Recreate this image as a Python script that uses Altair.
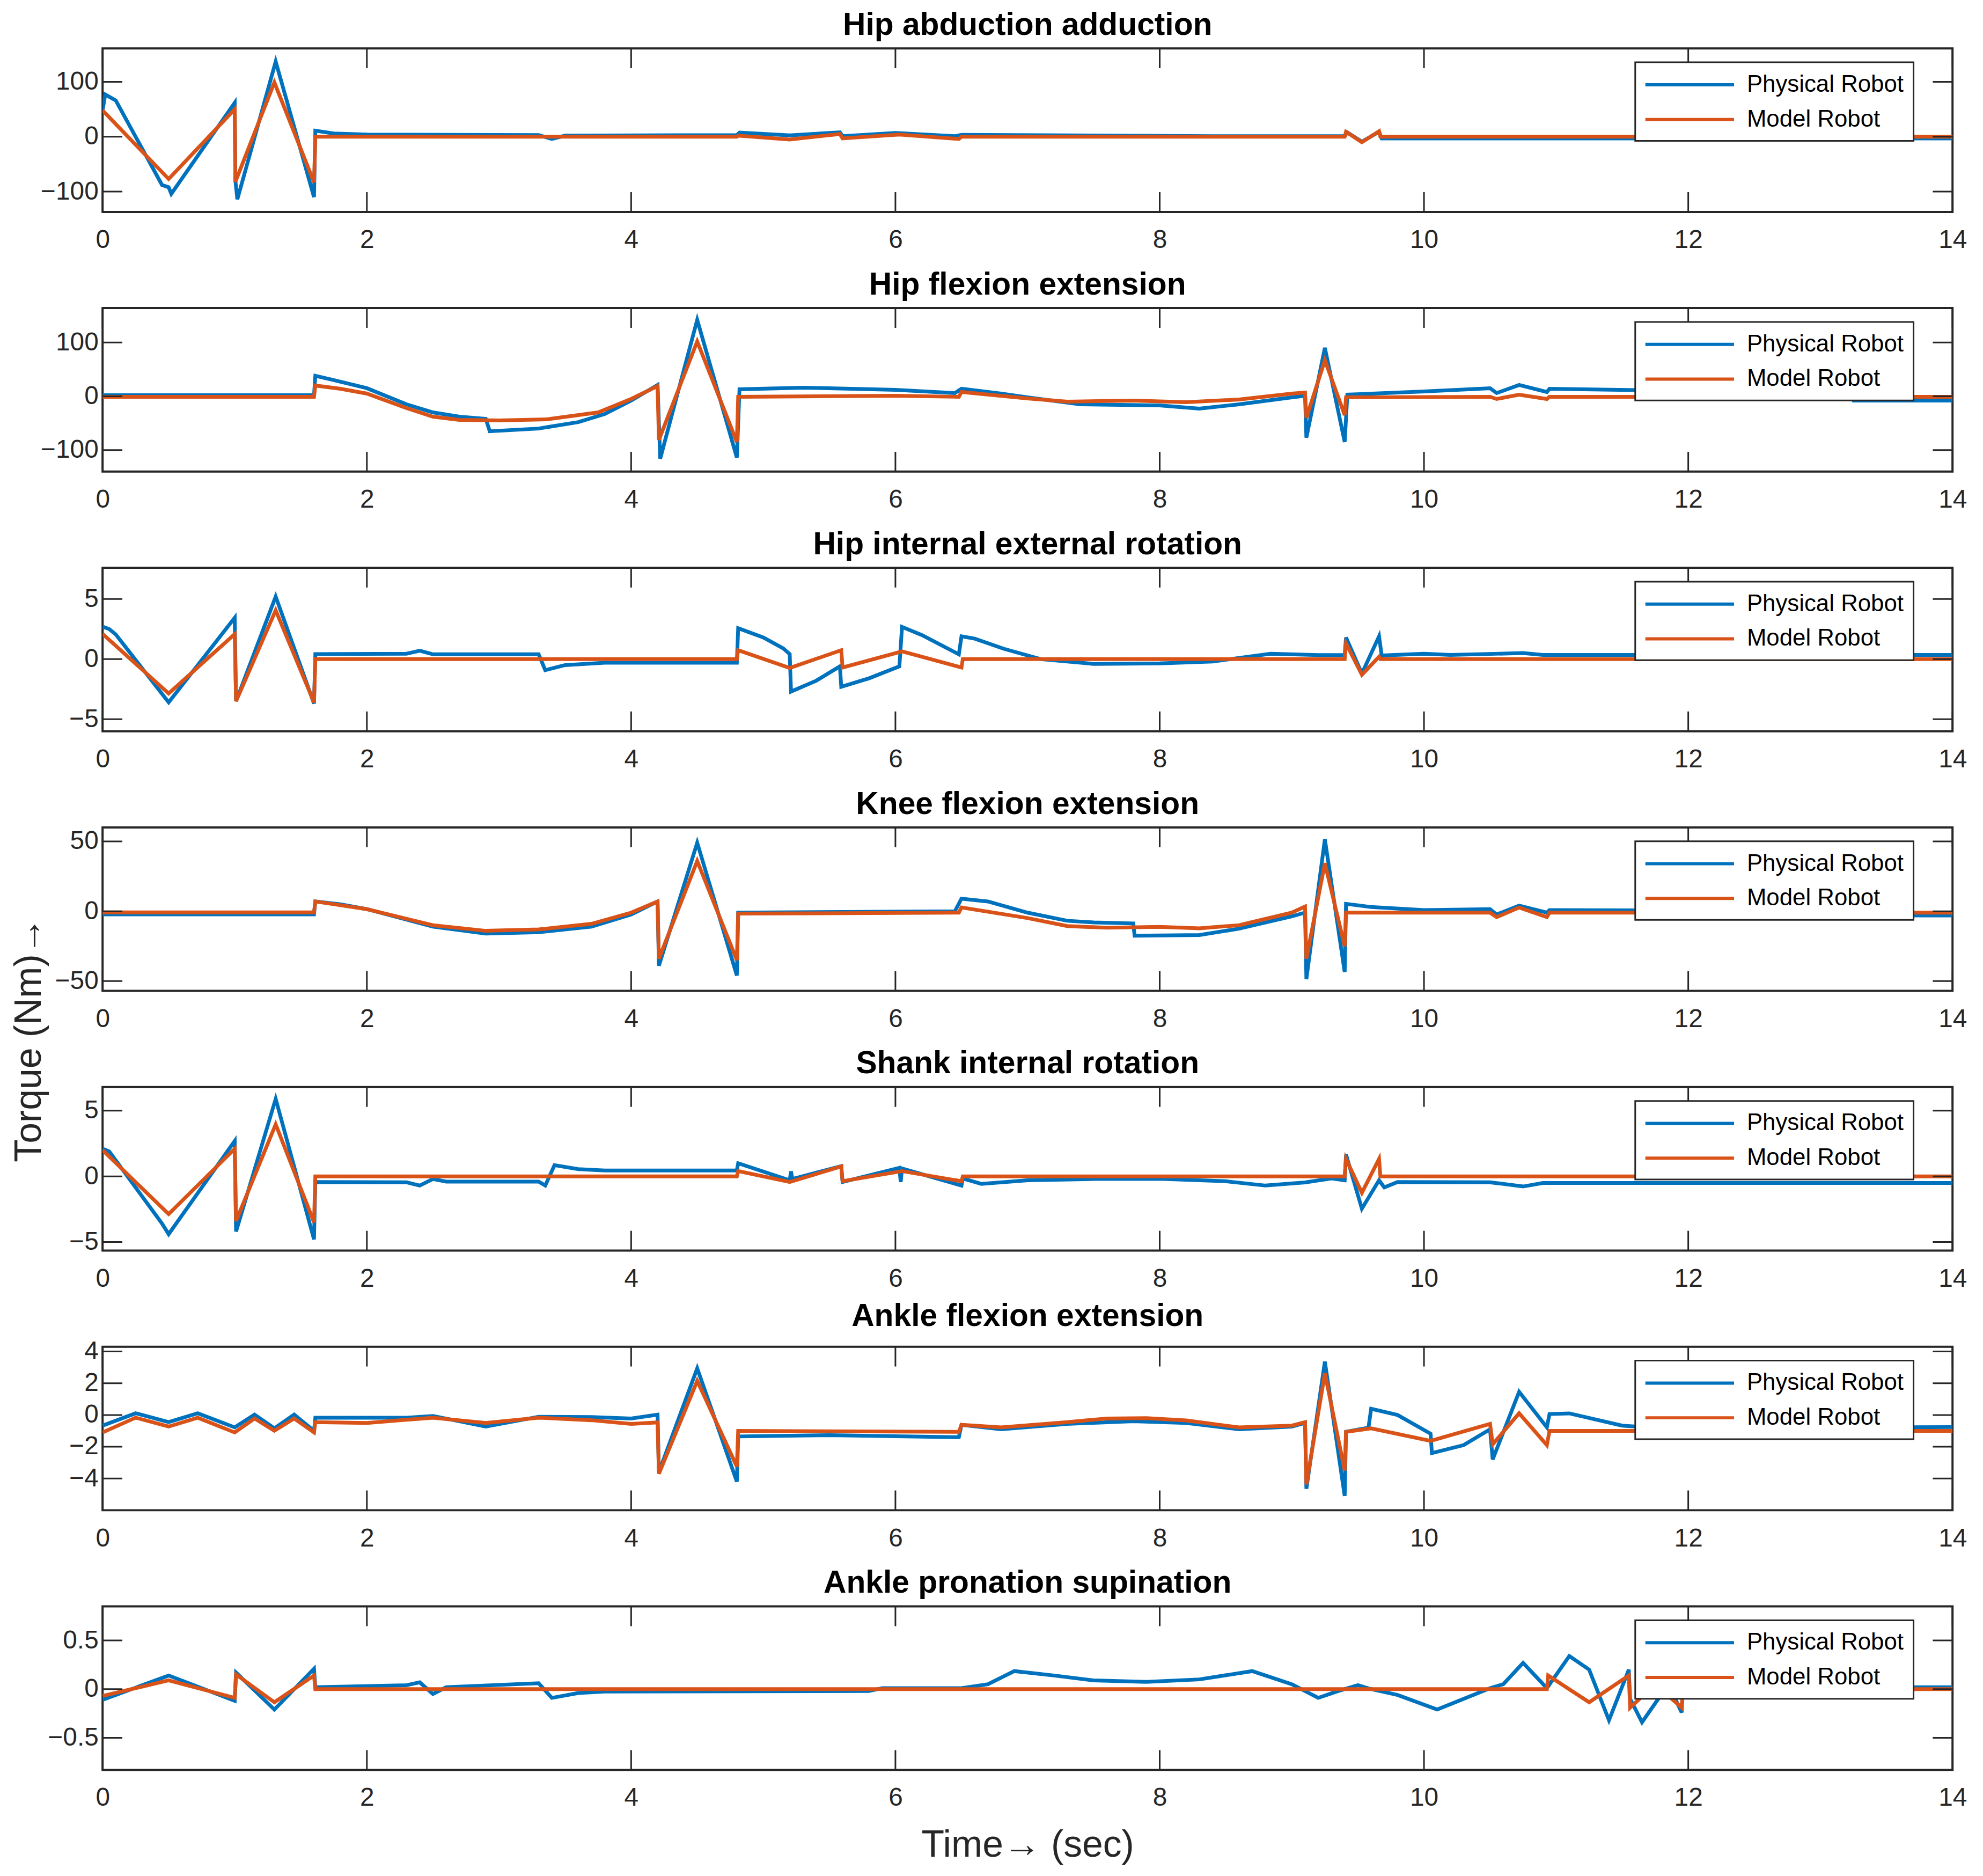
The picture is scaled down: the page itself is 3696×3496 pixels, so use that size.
import pandas as pd
import altair as alt

FONT = "Liberation Sans"
BLUE = "#0072BD"
ORANGE = "#D95319"
INK = "#262626"
W, H = 3463, 306

x_ticks = [0, 2, 4, 6, 8, 10, 12, 14]
series_names = ["Physical Robot", "Model Robot"]

# Hip abduction adduction
hab_phys_t = [0, 0.02, 0.1, 0.45, 0.5, 0.52, 1.0, 1.005, 1.02, 1.31, 1.6, 1.61, 1.75, 2.0, 3.3, 3.4, 3.5,
              4.8, 4.82, 5.2, 5.58, 5.6, 6.0, 6.45, 6.5, 8.4, 9.4, 9.42, 9.53, 9.66, 9.68, 14]
hab_phys = [48, 77, 66, -88, -92, -104, 62, -80, -114, 137, -110, 11, 6, 4, 3, -4, 2,
            3, 7.5, 2.6, 8, 1, 7, 1, 3.6, 1, 1, 8, -9, 9, -3, -3]
hab_model_t = [0, 0.5, 1.0, 1.005, 1.3, 1.6, 1.61, 4.8, 4.81, 5.2, 5.58, 5.6, 6.03, 6.48, 6.5,
               9.4, 9.41, 9.53, 9.66, 9.67, 14]
hab_model = [48, -77, 50, -82, 99, -83, 0, 0, 2, -5, 5, -3, 4, -4, 0,
             0, 9, -10, 10, 0, 0]

# Hip flexion extension
hfe_phys_t = [0, 1.6, 1.61, 1.75, 2.0, 2.3, 2.5, 2.7, 2.9, 2.93, 3.3, 3.6, 3.8, 4.0, 4.2, 4.22, 4.5, 4.8,
              4.82, 5.3, 6.0, 6.45, 6.5, 6.8, 7.0, 7.4, 8.0, 8.3, 8.6, 9.0, 9.1, 9.11, 9.25, 9.4, 9.42,
              10.0, 10.5, 10.55, 10.72, 10.93, 10.95, 12.0, 13.2, 13.25, 14]
hfe_phys = [2, 2, 38, 30, 15, -15, -30, -38, -42, -65, -60, -48, -33, -8, 21, -116, 142, -114,
            13, 16, 12, 6, 14, 5, -2, -15, -17, -23, -15, -2, 1, -77, 90, -85, 3,
            9, 15, 6, 21, 8, 14, 10, 8, -8, -8]
hfe_model_t = [0, 1.6, 1.61, 1.8, 2.0, 2.3, 2.5, 2.7, 3.0, 3.36, 3.75, 4.0, 4.2, 4.21, 4.5, 4.8, 4.81,
               6.0, 6.48, 6.5, 7.0, 7.3, 7.8, 8.2, 8.6, 9.0, 9.1, 9.11, 9.25, 9.4, 9.41,
               10.5, 10.55, 10.72, 10.93, 10.95, 14]
hfe_model = [-1, -1, 20, 14, 5, -22, -38, -44, -45, -43, -30, -5, 19, -81, 102, -85, -1,
             1, -1, 8, -4, -10, -8, -11, -6, 5, 7, -40, 67, -35, -2,
             -1, -5, 3, -5, -1, -1]

# Hip internal external rotation
hier_phys_t = [0, 0.05, 0.1, 0.5, 1.0, 1.01, 1.31, 1.6, 1.61, 2.3, 2.4, 2.5, 3.3, 3.35, 3.5, 3.8, 4.8,
               4.81, 5.0, 5.15, 5.2, 5.21, 5.4, 5.58, 5.59, 5.8, 6.03, 6.05, 6.2, 6.48, 6.5, 6.6, 6.82,
               7.1, 7.5, 8.0, 8.4, 8.84, 9.2, 9.4, 9.41, 9.53, 9.66, 9.68, 10.0, 10.2, 10.75, 10.9, 14]
hier_phys = [2.7, 2.5, 2.05, -3.6, 3.44, -3.5, 5.2, -3.7, 0.42, 0.45, 0.7, 0.4, 0.4, -0.92, -0.5, -0.3, -0.3,
             2.57, 1.8, 0.9, 0.42, -2.7, -1.8, -0.6, -2.3, -1.6, -0.6, 2.68, 2.0, 0.4, 1.9, 1.7, 0.86,
             0, -0.4, -0.36, -0.2, 0.45, 0.34, 0.34, 1.8, -1.2, 1.9, 0.3, 0.45, 0.35, 0.5, 0.35, 0.35]
hier_model_t = [0, 0.5, 1.0, 1.01, 1.31, 1.6, 1.61, 4.8, 4.81, 5.2, 5.59, 5.6, 6.05, 6.5, 6.51,
                9.4, 9.41, 9.53, 9.66, 9.67, 14]
hier_model = [2.1, -2.86, 2.08, -3.5, 4.06, -3.6, 0, 0, 0.74, -0.74, 0.74, -0.7, 0.64, -0.7, 0,
              0, 1.3, -1.3, 0.2, 0, 0]

# Knee flexion extension
kfe_phys_t = [0, 1.6, 1.61, 1.8, 2.0, 2.5, 2.9, 3.3, 3.7, 4.0, 4.2, 4.21, 4.5, 4.8, 4.81, 6.45, 6.5, 6.7,
              7.0, 7.3, 7.5, 7.8, 7.81, 8.3, 8.6, 9.0, 9.1, 9.11, 9.25, 9.4, 9.41, 9.6, 10.0, 10.5,
              10.55, 10.72, 10.93, 10.95, 13.5, 13.6, 14]
kfe_phys = [-2.3, -2.3, 7, 5, 1.5, -11, -16, -15, -11, -2.3, 7, -39, 49, -46, -1, 0, 9, 7,
            -1, -6.8, -8, -8.7, -17.5, -17, -12.5, -3.6, -1, -48.6, 51.5, -43.5, 5.3, 3, 0.8, 1.5,
            -2.3, 4, -1, 0.8, 0, -3, -3]
kfe_model_t = [0, 1.6, 1.61, 2.0, 2.5, 2.9, 3.3, 3.7, 4.0, 4.2, 4.21, 4.5, 4.8, 4.81, 6.48, 6.5,
               7.0, 7.3, 7.6, 8.0, 8.3, 8.6, 9.0, 9.1, 9.11, 9.25, 9.4, 9.41, 10.5, 10.55, 10.72,
               10.93, 10.95, 14]
kfe_model = [-0.8, -0.8, 7, 1.5, -10, -14, -13, -9, -1, 7, -34, 36, -35, -1.7, -1, 2.7,
             -4.9, -10.6, -11.8, -11.2, -12.2, -10, -1, 3.4, -34, 34.4, -25, -1, -1, -4.2, 2.7,
             -4.2, -1, -1]

# Shank internal rotation
sir_phys_t = [0, 0.05, 0.45, 0.5, 1.0, 1.01, 1.31, 1.6, 1.61, 2.3, 2.4, 2.5, 2.6, 3.3, 3.35, 3.42, 3.6,
              3.8, 4.8, 4.81, 5.2, 5.21, 5.22, 5.59, 5.6, 6.03, 6.04, 6.05, 6.5, 6.51, 6.65, 7.0, 7.5,
              8.0, 8.5, 8.8, 9.1, 9.3, 9.4, 9.41, 9.53, 9.66, 9.7, 9.8, 10.5, 10.75, 10.9, 14]
sir_phys = [2.1, 1.9, -3.6, -4.4, 2.7, -4.2, 5.9, -4.8, -0.43, -0.45, -0.7, -0.2, -0.4, -0.4, -0.7, 0.85, 0.55,
            0.45, 0.45, 1.0, -0.3, 0.38, -0.2, 0.78, -0.43, 0.65, -0.43, 0.6, -0.7, -0.16, -0.57, -0.3, -0.2,
            -0.19, -0.37, -0.7, -0.46, -0.16, -0.3, 1.66, -2.46, -0.3, -0.84, -0.43, -0.45, -0.77, -0.5, -0.5]
sir_model_t = [0, 0.5, 1.0, 1.01, 1.31, 1.6, 1.61, 4.8, 4.81, 5.2, 5.59, 5.6, 6.05, 6.5, 6.51,
               9.4, 9.41, 9.53, 9.66, 9.67, 14]
sir_model = [2.0, -2.87, 2.1, -3.4, 3.96, -3.5, 0, 0, 0.4, -0.43, 0.76, -0.37, 0.4, -0.37, 0,
             0, 1.33, -1.25, 1.33, 0, 0]

# Ankle flexion extension
afe_phys_t = [0, 0.25, 0.5, 0.72, 1.0, 1.15, 1.3, 1.45, 1.6, 1.61, 2.3, 2.5, 2.9, 3.3, 3.7, 4.0, 4.2,
              4.21, 4.5, 4.8, 4.81, 5.5, 6.48, 6.5, 6.8, 7.3, 7.8, 8.2, 8.6, 9.0, 9.1, 9.11, 9.25, 9.4,
              9.41, 9.58, 9.6, 9.8, 10.05, 10.06, 10.3, 10.5, 10.52, 10.72, 10.93, 10.95, 11.1, 11.5,
              11.8, 14]
afe_phys = [-0.67, 0.11, -0.45, 0.11, -0.78, 0.02, -0.84, 0.03, -1.0, -0.17, -0.17, -0.06, -0.73, -0.11, -0.13, -0.22, 0.02,
            -3.6, 2.94, -4.2, -1.35, -1.27, -1.4, -0.62, -0.9, -0.56, -0.39, -0.5, -0.9, -0.73, -0.5, -4.65, 3.36, -5.1,
            -1.06, -0.8, 0.39, 0.0, -1.18, -2.4, -1.9, -0.9, -2.8, 1.46, -0.78, 0.06, 0.1, -0.67,
            -0.84, -0.76]
afe_model_t = [0, 0.25, 0.5, 0.72, 1.0, 1.15, 1.3, 1.45, 1.6, 1.61, 2.0, 2.5, 2.9, 3.3, 3.7, 4.0, 4.2,
               4.21, 4.5, 4.8, 4.81, 6.48, 6.5, 6.8, 7.3, 7.6, 7.9, 8.2, 8.6, 9.0, 9.1, 9.11, 9.25, 9.4,
               9.41, 9.6, 10.05, 10.5, 10.52, 10.72, 10.93, 10.95, 14]
afe_model = [-1.1, -0.17, -0.73, -0.17, -1.1, -0.22, -0.99, -0.22, -1.1, -0.45, -0.5, -0.17, -0.5, -0.17, -0.33, -0.56, -0.47,
             -3.7, 2.15, -3.25, -1.0, -1.06, -0.62, -0.78, -0.45, -0.22, -0.2, -0.34, -0.78, -0.67, -0.45, -4.37, 2.63, -3.5,
             -1.06, -0.84, -1.63, -0.56, -1.85, 0.11, -1.9, -1.0, -1.0]

# Ankle pronation supination
aps_phys_t = [0, 0.5, 1.0, 1.01, 1.3, 1.6, 1.61, 2.3, 2.4, 2.5, 2.6, 3.3, 3.4, 3.6, 3.8, 5.8, 5.9, 6.5,
              6.7, 6.9, 7.2, 7.5, 7.9, 8.3, 8.7, 9.0, 9.2, 9.35, 9.5, 9.6, 9.8, 10.1, 10.5, 10.6, 10.75,
              10.93, 11.1, 11.25, 11.4, 11.55, 11.56, 11.65, 11.85, 11.95, 11.96, 14]
aps_phys = [-0.11, 0.14, -0.12, 0.17, -0.21, 0.21, 0.02, 0.04, 0.07, -0.05, 0.02, 0.06, -0.09, -0.04, -0.025, -0.02, 0.01, 0.01,
            0.05, 0.185, 0.14, 0.09, 0.075, 0.1, 0.185, 0.05, -0.09, -0.02, 0.04, 0.0, -0.06, -0.21, 0.01, 0.05, 0.27,
            0.01, 0.34, 0.2, -0.32, 0.2, -0.1, -0.34, 0.05, -0.24, 0.02, 0.02]
aps_model_t = [0, 0.5, 1.0, 1.01, 1.3, 1.6, 1.61, 10.93, 10.94, 11.25, 11.55, 11.56, 11.75, 11.95, 11.96, 14]
aps_model = [-0.07, 0.09, -0.09, 0.15, -0.135, 0.14, 0, 0, 0.14, -0.135, 0.14, -0.19, 0.05, -0.19, 0, 0]


def panel(title, tp, vp, tm, vm, ydom, yticks, last=False, ylab=False):
    df = pd.concat([
        pd.DataFrame({"t": tp, "v": vp, "series": series_names[0]}),
        pd.DataFrame({"t": tm, "v": vm, "series": series_names[1]}),
    ], ignore_index=True)
    df["i"] = range(len(df))

    xaxis = alt.Axis(values=x_ticks, ticks=False, domain=False, grid=False, labelFlush=False,
                     labelPadding=29, labelFontSize=48, labelColor=INK,
                     title="Time→ (sec)" if last else None, titleFontSize=70,
                     titleFontWeight="normal", titleColor=INK, titlePadding=30)
    yaxis = alt.Axis(values=yticks, ticks=False, domain=False, grid=False, labelFlush=False,
                     labelPadding=8, labelFontSize=48, labelColor=INK, title=None, format="~f")
    xscale = alt.Scale(domain=[0, 14], nice=False)
    yscale = alt.Scale(domain=ydom, nice=False, zero=False)
    legend = alt.Legend(title=None, orient="none", legendX=2869, legendY=26,
                        fillColor="white", strokeColor=INK, padding=18,
                        labelFontSize=44, labelColor="black", labelLimit=600,
                        symbolType="M-4,0L4,0", symbolSize=1722, symbolStrokeWidth=6,
                        symbolOffset=60, labelOffset=83, rowPadding=19)

    base = alt.Chart(df).mark_line(strokeWidth=7, clip=True).encode(
        x=alt.X("t:Q", scale=xscale, axis=xaxis),
        y=alt.Y("v:Q", scale=yscale, axis=yaxis),
        color=alt.Color("series:N", scale=alt.Scale(domain=series_names, range=[BLUE, ORANGE]),
                        legend=legend),
        order="i:Q",
    )
    phys = base.transform_filter(alt.datum.series == series_names[0])
    model = base.transform_filter(alt.datum.series == series_names[1])

    # inward tick marks on all four sides, as in the original figure
    xt = alt.Chart(pd.DataFrame({"xv": x_ticks}))
    yt = alt.Chart(pd.DataFrame({"yv": yticks}))
    top = xt.mark_rule(color=INK, strokeWidth=3).encode(
        x=alt.X("xv:Q", scale=xscale, axis=xaxis), y=alt.value(0), y2=alt.value(37))
    bottom = xt.mark_rule(color=INK, strokeWidth=3).encode(
        x=alt.X("xv:Q", scale=xscale, axis=xaxis), y=alt.value(H - 37), y2=alt.value(H))
    left = yt.mark_rule(color=INK, strokeWidth=3).encode(
        y=alt.Y("yv:Q", scale=yscale, axis=yaxis), x=alt.value(0), x2=alt.value(37))
    right = yt.mark_rule(color=INK, strokeWidth=3).encode(
        y=alt.Y("yv:Q", scale=yscale, axis=yaxis), x=alt.value(W - 37), x2=alt.value(W))

    layers = [phys, model, top, bottom, left, right]
    if ylab:
        lab = alt.Chart(pd.DataFrame({"a": [0]})).mark_text(
            angle=270, fontSize=70, color=INK, align="center", baseline="middle"
        ).encode(x=alt.value(-137), y=alt.value(397), text=alt.value("Torque (Nm)→"))
        layers.append(lab)

    return alt.layer(*layers).properties(
        width=W, height=H,
        title=alt.Title(title, fontSize=59, fontWeight="bold", color="black",
                        offset=12, anchor="middle"),
    )


panels = [
    panel("Hip abduction adduction", hab_phys_t, hab_phys, hab_model_t, hab_model,
          [-137, 161], [-100, 0, 100]),
    panel("Hip flexion extension", hfe_phys_t, hfe_phys, hfe_model_t, hfe_model,
          [-140, 164], [-100, 0, 100]),
    panel("Hip internal external rotation", hier_phys_t, hier_phys, hier_model_t, hier_model,
          [-6, 7.6], [-5, 0, 5]),
    panel("Knee flexion extension", kfe_phys_t, kfe_phys, kfe_model_t, kfe_model,
          [-57, 60], [-50, 0, 50], ylab=True),
    panel("Shank internal rotation", sir_phys_t, sir_phys, sir_model_t, sir_model,
          [-5.65, 6.8], [-5, 0, 5]),
    panel("Ankle flexion extension", afe_phys_t, afe_phys, afe_model_t, afe_model,
          [-6, 4.3], [-4, -2, 0, 2, 4]),
    panel("Ankle pronation supination", aps_phys_t, aps_phys, aps_model_t, aps_model,
          [-0.83, 0.85], [-0.5, 0, 0.5], last=True),
]

chart = alt.vconcat(*panels, spacing=180, bounds="flush").resolve_scale(
    x="independent", y="independent", color="independent"
).resolve_legend(color="independent").properties(
    padding={"left": 10, "top": 0, "right": 20, "bottom": 10}
).configure(font=FONT).configure_view(stroke=INK, strokeWidth=4).configure_legend(strokeWidth=3)

chart.save("out.html", embed_options={"renderer": "svg", "actions": False})
